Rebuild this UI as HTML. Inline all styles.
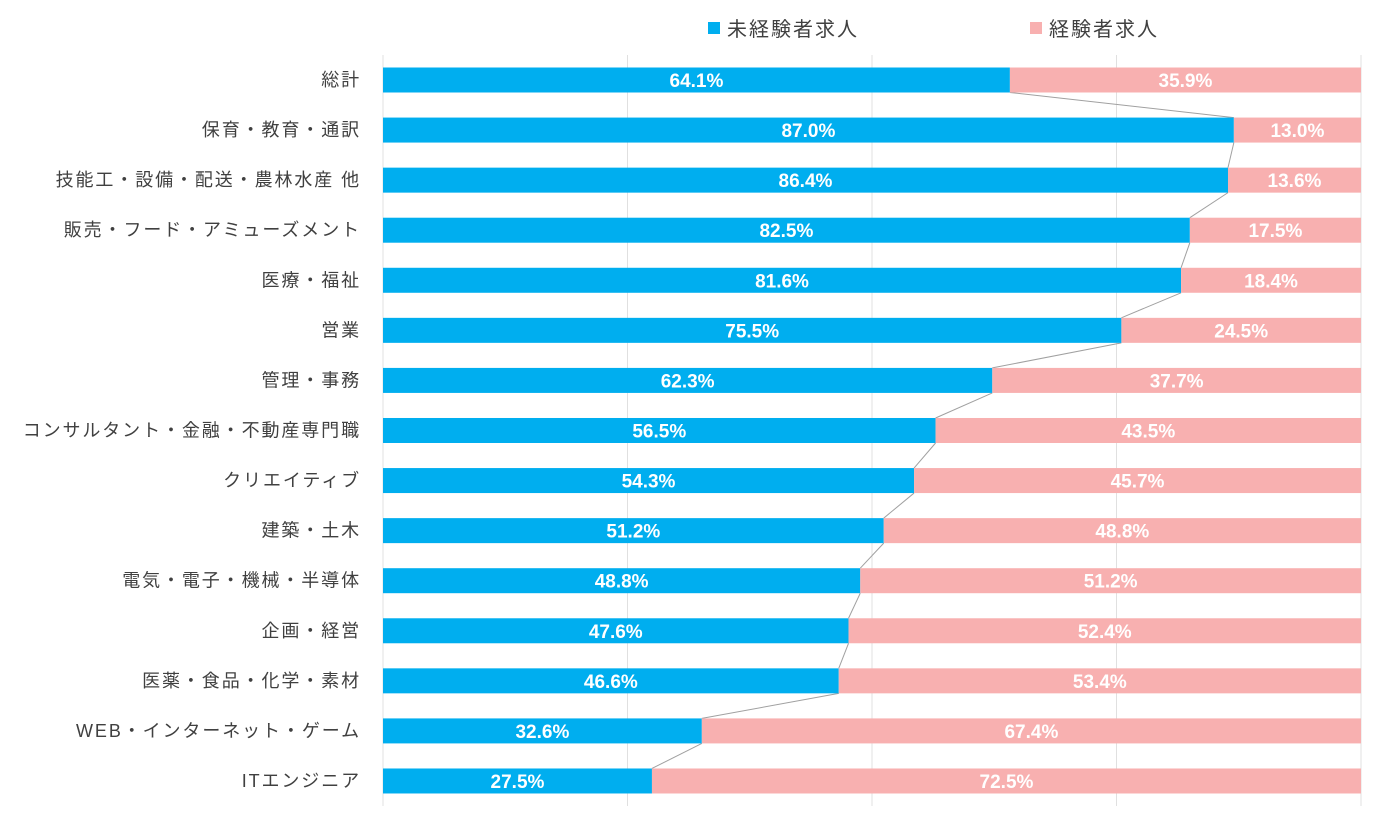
<!DOCTYPE html>
<html><head><meta charset="utf-8">
<style>
html,body{margin:0;padding:0;background:#fff;}
svg{display:block;font-family:"Liberation Sans","Noto Sans CJK JP",sans-serif;}
</style></head>
<body>
<svg id="chart" width="1399" height="818" viewBox="0 0 1399 818">
<g id="grid"></g>
<g id="connectors"></g>
<g id="bars"></g>
<g id="cats"></g>
<g>
  <rect x="708" y="22" width="12" height="12" fill="#00AEEF"/>
  <text x="727" y="36" font-size="20" letter-spacing="2" fill="#404040">未経験者求人</text>
  <rect x="1030" y="22" width="12" height="12" fill="#F8B0B0"/>
  <text x="1049" y="36" font-size="20" letter-spacing="2" fill="#404040">経験者求人</text>
</g>
</svg>
<script>
const categories = ["総計","保育・教育・通訳","技能工・設備・配送・農林水産 他","販売・フード・アミューズメント","医療・福祉","営業","管理・事務","コンサルタント・金融・不動産専門職","クリエイティブ","建築・土木","電気・電子・機械・半導体","企画・経営","医薬・食品・化学・素材","WEB・インターネット・ゲーム","ITエンジニア"];
const inexperienced = [64.1,87.0,86.4,82.5,81.6,75.5,62.3,56.5,54.3,51.2,48.8,47.6,46.6,32.6,27.5];
const experienced = [35.9,13.0,13.6,17.5,18.4,24.5,37.7,43.5,45.7,48.8,51.2,52.4,53.4,67.4,72.5];
const xTicks = [0,25,50,75,100];

const NS="http://www.w3.org/2000/svg";
const X0=383,X1=1361,Y0=80,STEP=50.07,BH=25;
const xs=v=>X0+(X1-X0)*v/100;
const yc=i=>Y0+i*STEP;
function mk(tag,attrs,parent){const e=document.createElementNS(NS,tag);for(const k in attrs)e.setAttribute(k,attrs[k]);parent.appendChild(e);return e;}
const grid=document.getElementById('grid'),bars=document.getElementById('bars'),cats=document.getElementById('cats'),con=document.getElementById('connectors');
xTicks.forEach(t=>{
  const l=mk('line',{x1:xs(t),x2:xs(t),y1:55,y2:806,stroke:'#e0e0e0','stroke-width':1},grid);
  
  
});
categories.forEach((c,i)=>{
  const y=yc(i);
  const total=inexperienced[i]+experienced[i];
  const a=inexperienced[i]/total*100;
  const r1=mk('rect',{x:xs(0),y:y-BH/2,width:xs(a)-xs(0),height:BH,fill:'#00AEEF'},bars);
  
  
  const r2=mk('rect',{x:xs(a),y:y-BH/2,width:xs(100)-xs(a),height:BH,fill:'#F8B0B0'},bars);
  
  
  const t1=mk('text',{x:(xs(0)+xs(a))/2,y:y+7,'text-anchor':'middle','font-size':19,'font-weight':'bold',fill:'#fff'},bars);
  t1.textContent=inexperienced[i].toFixed(1)+'%';
  
  
  const t2=mk('text',{x:(xs(a)+xs(100))/2,y:y+7,'text-anchor':'middle','font-size':19,'font-weight':'bold',fill:'#fff'},bars);
  t2.textContent=experienced[i].toFixed(1)+'%';
  
  
  const lb=mk('text',{x:361,y:y+6,'text-anchor':'end','font-size':18,'letter-spacing':1.9,fill:'#404040'},cats);
  lb.textContent=c;
  
  
  if(i<categories.length-1){
    const n=inexperienced[i+1]/(inexperienced[i+1]+experienced[i+1])*100;
    const ln=mk('line',{x1:xs(a),y1:y+BH/2,x2:xs(n),y2:yc(i+1)-BH/2,stroke:'#a0a0a0','stroke-width':1},con);
    
    
  }
});
</script>
</body></html>
